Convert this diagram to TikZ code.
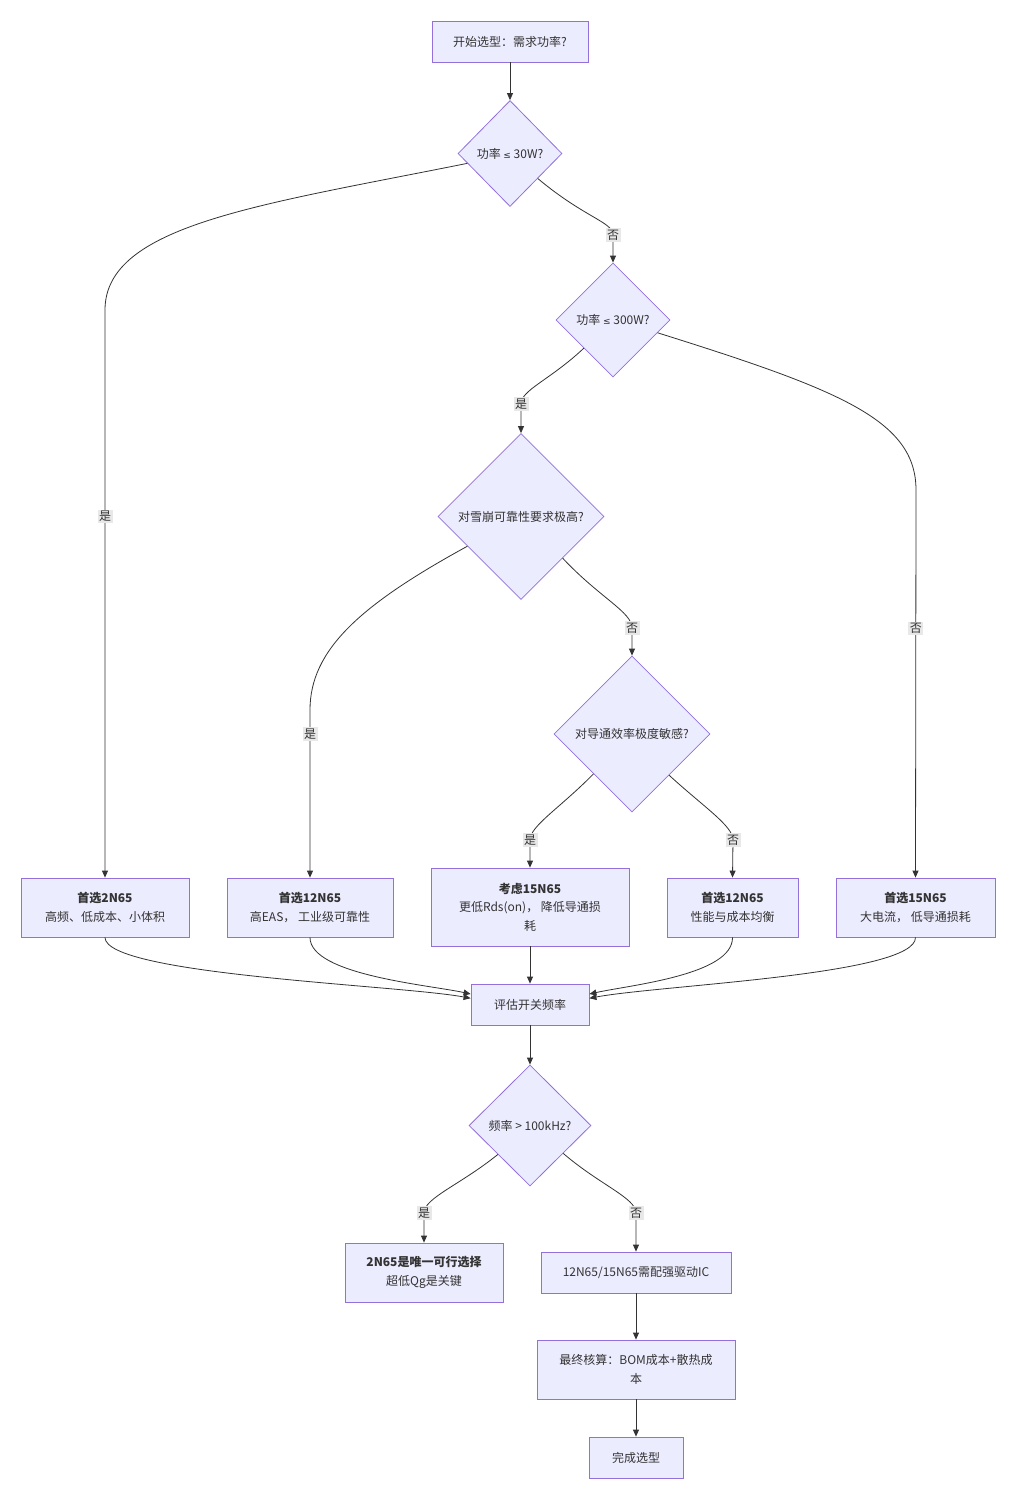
\documentclass[tikz,border=0pt]{standalone}
\usepackage{fontspec}
\setmainfont{Noto Sans CJK SC}
\newfontfamily\symfont{DejaVu Sans}
\usetikzlibrary{shapes.geometric,arrows.meta}
\definecolor{nodefill}{HTML}{ECECFF}
\definecolor{nodeline}{HTML}{9370DB}
\definecolor{edgeline}{HTML}{333333}
\definecolor{lblfill}{HTML}{E8E8E8}
\tikzset{
  box/.style={draw=nodeline, fill=nodefill, line width=0.8pt, inner sep=0pt, align=center, text=edgeline},
  decision/.style={diamond, aspect=1, draw=nodeline, fill=nodefill, line width=0.8pt, inner sep=0pt, align=center, text=edgeline},
  flow/.style={draw=edgeline, line width=0.8pt, -{Triangle[length=7pt,width=6pt]}},
  lbl/.style={fill=lblfill, inner sep=1.5pt, text=edgeline}
}
\begin{document}
\begin{tikzpicture}[x=1pt,y=-1pt,font=\fontsize{12}{18.5}\selectfont]
\useasboundingbox[fill=white] (0,0) rectangle (1016,1500);

% questions and choices
\node[box, minimum width=156pt, minimum height=41pt] (start) at (510,41.5) {开始选型：需求功率?};
\node[decision, minimum width=104pt, minimum height=106pt] (q30) at (510,153.5) {功率 {\symfont\small ≤} 30W?};
\node[decision, minimum width=114pt, minimum height=114pt] (q300) at (613,320) {功率 {\symfont\small ≤} 300W?};
\node[decision, minimum width=166pt, minimum height=166pt] (qaval) at (521,516.5) {对雪崩可靠性要求极高?};
\node[decision, minimum width=156pt, minimum height=156pt] (qeff) at (632,734) {对导通效率极度敏感?};

\node[box, minimum width=168pt, minimum height=59pt] (pick2) at (105,907.5) {\textbf{首选2N65}\\高频、低成本、小体积};
\node[box, minimum width=166pt, minimum height=59pt] (pick12a) at (310,907.5) {\textbf{首选12N65}\\高EAS， 工业级可靠性};
\node[box, minimum width=198pt, minimum height=78pt] (pick15c) at (530,907) {\textbf{考虑15N65}\\更低Rds(on)， 降低导通损\\耗};
\node[box, minimum width=131pt, minimum height=59pt] (pick12b) at (732.5,907.5) {\textbf{首选12N65}\\性能与成本均衡};
\node[box, minimum width=159pt, minimum height=59pt] (pick15) at (915.5,907.5) {\textbf{首选15N65}\\大电流， 低导通损耗};

\node[box, minimum width=118pt, minimum height=41pt] (evalf) at (530,1004.5) {评估开关频率};
\node[decision, minimum width=122pt, minimum height=121pt] (qfreq) at (530,1125.5) {频率 > 100kHz?};
\node[box, minimum width=158pt, minimum height=59pt] (only2) at (424,1272.5) {\textbf{2N65是唯一可行选择}\\超低Qg是关键};
\node[box, minimum width=190pt, minimum height=41pt] (drive) at (636,1272.5) {12N65/15N65需配强驱动IC};
\node[box, minimum width=198pt, minimum height=59pt] (bom) at (636,1369.5) {最终核算：BOM成本+散热成\\本};
\node[box, minimum width=94pt, minimum height=41pt] (done) at (636,1457.5) {完成选型};

% connectors
\draw[flow] (start) -- (q30);
\draw[flow] (q30.193) .. controls (260,205) and (105,225) .. (105,310) -- node[lbl, pos=0.364] {是} (pick2.north);
\draw[flow] (q30.-42) .. controls (585,218) and (613,222) .. (613,235) node[lbl] {否} -- (q300.north);
\draw[flow] (q300.224) .. controls (550,380) and (521,390) .. (521,404) node[lbl] {是} -- (qaval.north);
\draw[flow] (q300.-16) .. controls (840,390) and (916,420) .. (916,490) -- node[lbl, pos=0.358] {否} (pick15.north);
\draw[flow] (qaval.209) .. controls (360,605) and (310,650) .. (310,710) -- node[lbl, pos=0.143] {是} (pick12a.north);
\draw[flow] (qaval.-45) .. controls (600,598) and (632,612) .. (632,628) node[lbl] {否} -- (qeff.north);
\draw[flow] (qeff.226) .. controls (560,808) and (530,826) .. (530,840) node[lbl] {是} -- (pick15c.north);
\draw[flow] (qeff.-48) .. controls (705,808) and (733,826) .. (733,840) node[lbl] {否} -- (pick12b.north);

\draw[flow] (pick2.south) .. controls (105,975) and (400,985) .. (evalf.174);
\draw[flow] (pick12a.south) .. controls (310,975) and (430,985) .. (evalf.170);
\draw[flow] (pick15c) -- (evalf);
\draw[flow] (pick12b.south) .. controls (733,975) and (630,985) .. (evalf.10);
\draw[flow] (pick15.south) .. controls (916,975) and (660,985) .. (evalf.6);

\draw[flow] (evalf) -- (qfreq);
\draw[flow] (qfreq.222) .. controls (460,1185) and (424,1198) .. (424,1213) node[lbl] {是} -- (only2.north);
\draw[flow] (qfreq.-40) .. controls (600,1185) and (636,1198) .. (636,1213) node[lbl] {否} -- (drive.north);
\draw[flow] (drive) -- (bom);
\draw[flow] (bom) -- (done);
\end{tikzpicture}
\end{document}
